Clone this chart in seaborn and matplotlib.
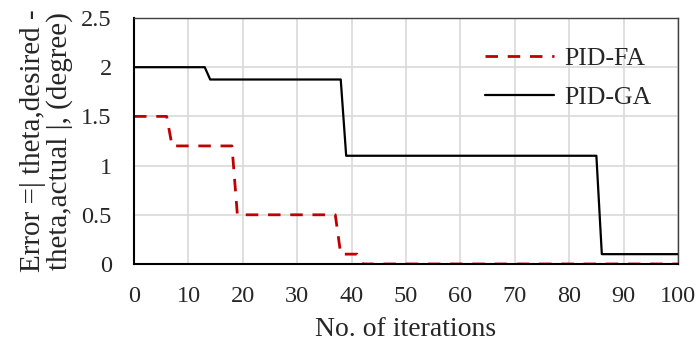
import numpy as np
import pandas as pd
import seaborn as sns
from matplotlib import pyplot as plt

# step points
fa_iter = [0, 6, 7, 18, 19, 37, 38, 41, 42, 100]
fa_error = [1.5, 1.5, 1.2, 1.2, 0.5, 0.5, 0.1, 0.1, 0.0, 0.0]
ga_iter = [0, 13, 14, 38, 39, 85, 86, 100]
ga_error = [2.0, 2.0, 1.875, 1.875, 1.1, 1.1, 0.1, 0.1]

x_ticks = list(range(0, 101, 10))
y_ticks = [0, 0.5, 1, 1.5, 2, 2.5]
y_ticklabels = ["0", "0.5", "1", "1.5", "2", "2.5"]

sns.set_style("whitegrid")
plt.rcParams['font.family'] = ['Liberation Serif', 'DejaVu Serif']

fig = plt.figure(figsize=(6.97, 3.45), dpi=100)
ax = fig.add_axes([0.1923, 0.2348, 0.7804, 0.713])

fa = pd.DataFrame({"iter": fa_iter, "err": fa_error})
ga = pd.DataFrame({"iter": ga_iter, "err": ga_error})

sns.lineplot(data=fa, x="iter", y="err", ax=ax, color="#C00000", lw=2,
             dashes=False, label="PID-FA")
sns.lineplot(data=ga, x="iter", y="err", ax=ax, color="black", lw=1.6,
             label="PID-GA")
ax.lines[0].set_dashes((4.5, 3.5))

ax.set_xlim(0, 100)
ax.set_ylim(0, 2.5)
ax.set_xticks(x_ticks)
ax.set_yticks(y_ticks)
ax.set_yticklabels(y_ticklabels)
ax.tick_params(axis="both", labelsize=17.5, length=0)
ax.tick_params(axis="x", pad=16)
ax.tick_params(axis="y", pad=16)
ax.grid(True, color="#d9d9d9", lw=1.2)

for s in ["left", "bottom"]:
    ax.spines[s].set_color("black")
    ax.spines[s].set_linewidth(1.5)
for s in ["top", "right"]:
    ax.spines[s].set_color("#404040")
    ax.spines[s].set_linewidth(1.0)

ax.set_xlabel("No. of iterations", fontsize=20, labelpad=7)
ax.set_ylabel("Error =| theta,desired -\ntheta,actual |, (degree)", fontsize=21,
              labelpad=6, linespacing=1.0)

leg = ax.legend(loc="upper right", bbox_to_anchor=(0.993, 0.975), frameon=False,
                fontsize=18.5, handlelength=2.65, handletextpad=0.4,
                labelspacing=0.62)

fig.savefig("out.png", dpi=100)
